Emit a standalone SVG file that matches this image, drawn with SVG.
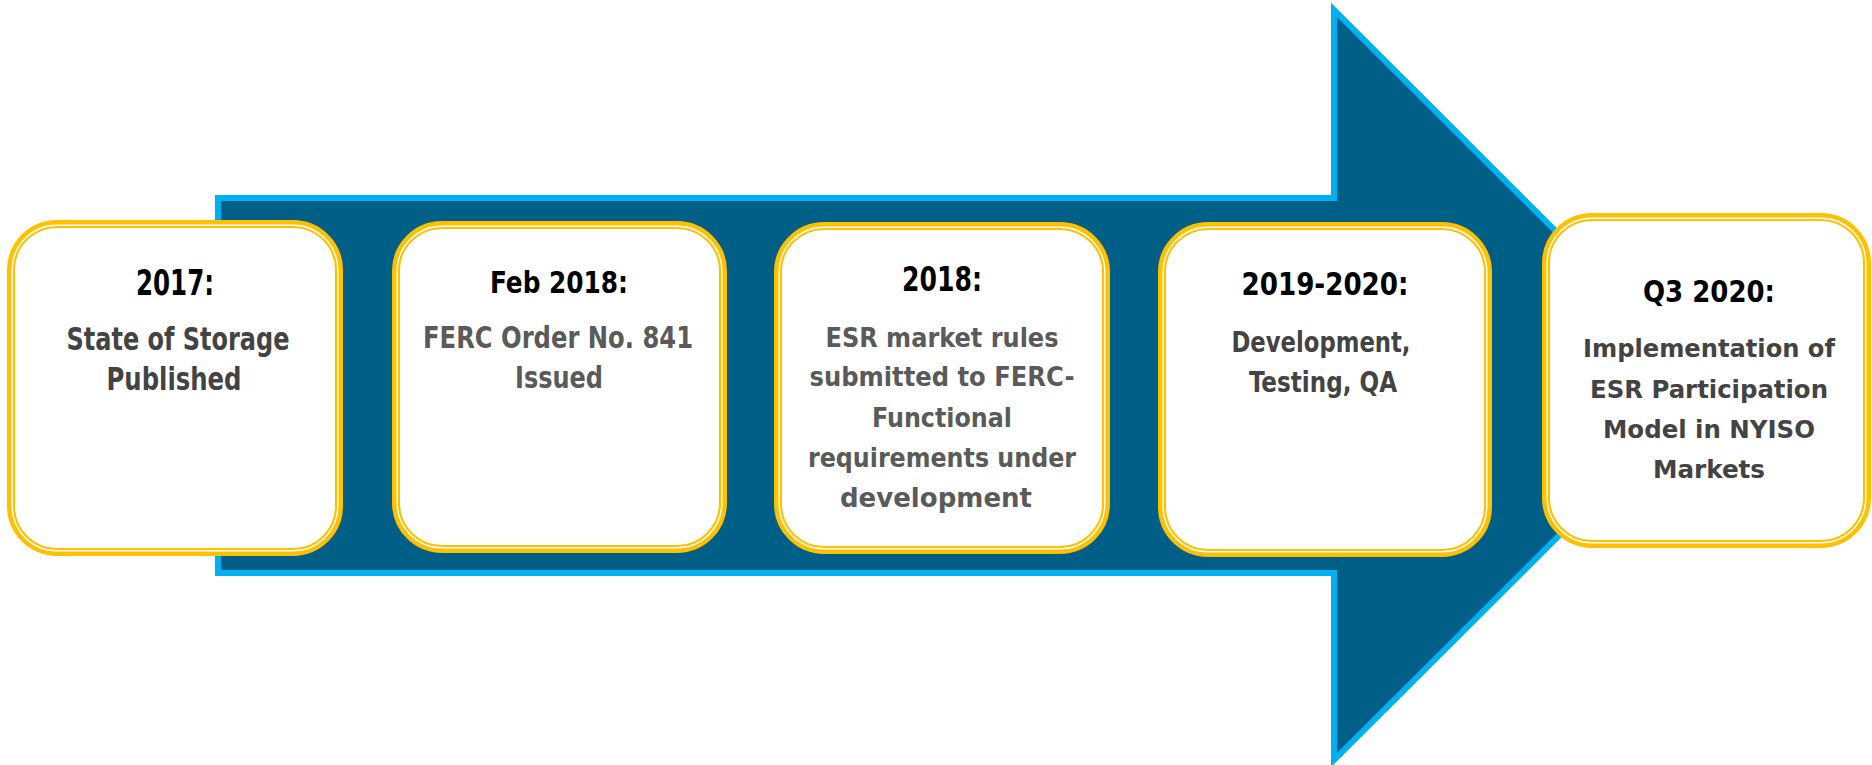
<svg xmlns="http://www.w3.org/2000/svg" width="1872" height="765" viewBox="0 0 1872 765">
  <style>
    .frame { fill: #ffffff; stroke: #FFC000; stroke-width: 8; }
    .inner { fill: none; stroke: #FFFFFF; stroke-width: 1.4; }
    text { font-family: "Liberation Sans Narrow", "DejaVu Sans Condensed", "Roboto Condensed", Roboto, "Liberation Sans", sans-serif; font-weight: 700; text-anchor: middle; }
    .title { fill: #000000; font-weight: 600; }
    .dark { fill: #434343; }
    .grey { fill: #5A5A5A; }
  </style>

  <!-- timeline arrow -->
  <g id="connectors">
    <polygon id="timeline-arrow" points="218,198 1334,198 1334,10 1710,385 1334,760 1334,573 218,573" fill="#005F87" stroke="#00B0F0" stroke-width="6" stroke-linejoin="miter"/>
  </g>

  <!-- milestone 1 -->
  <g id="node-2017">
    <rect class="frame" x="11" y="224" width="328" height="328" rx="46"/>
    <rect class="inner" x="12.2" y="225.2" width="325.6" height="325.6" rx="44.8"/>
    <text class="title" x="175" y="295" font-size="35" textLength="78" lengthAdjust="spacingAndGlyphs">2017:</text>
    <text class="dark" x="178" y="350" font-size="32" textLength="223" lengthAdjust="spacingAndGlyphs">State of Storage</text>
    <text class="dark" x="174" y="390" font-size="32" textLength="135" lengthAdjust="spacingAndGlyphs">Published</text>
  </g>

  <!-- milestone 2 -->
  <g id="node-feb-2018">
    <rect class="frame" x="396" y="225" width="327" height="324" rx="46"/>
    <rect class="inner" x="397.2" y="226.2" width="324.6" height="321.6" rx="44.8"/>
    <text class="title" x="559" y="293" font-size="30" textLength="138" lengthAdjust="spacingAndGlyphs">Feb 2018:</text>
    <text class="grey" x="558" y="348" font-size="30" textLength="270" lengthAdjust="spacingAndGlyphs">FERC Order No. 841</text>
    <text class="grey" x="559" y="388" font-size="30" textLength="88" lengthAdjust="spacingAndGlyphs">Issued</text>
  </g>

  <!-- milestone 3 -->
  <g id="node-2018">
    <rect class="frame" x="778" y="226" width="328" height="324" rx="46"/>
    <rect class="inner" x="779.2" y="227.2" width="325.6" height="321.6" rx="44.8"/>
    <text class="title" x="942" y="291" font-size="33" textLength="80" lengthAdjust="spacingAndGlyphs">2018:</text>
    <text class="grey" x="942" y="347" font-size="27" textLength="233" lengthAdjust="spacingAndGlyphs">ESR market rules</text>
    <text class="grey" x="942" y="386" font-size="27" textLength="265" lengthAdjust="spacingAndGlyphs">submitted to FERC-</text>
    <text class="grey" x="942" y="427" font-size="27" textLength="140" lengthAdjust="spacingAndGlyphs">Functional</text>
    <text class="grey" x="942" y="467" font-size="27" textLength="268" lengthAdjust="spacingAndGlyphs">requirements under</text>
    <text class="grey" x="936" y="507" font-size="27" textLength="192" lengthAdjust="spacingAndGlyphs">development</text>
  </g>

  <!-- milestone 4 -->
  <g id="node-2019-2020">
    <rect class="frame" x="1162" y="226" width="326" height="327" rx="46"/>
    <rect class="inner" x="1163.2" y="227.2" width="323.6" height="324.6" rx="44.8"/>
    <text class="title" x="1325" y="295" font-size="32" textLength="167" lengthAdjust="spacingAndGlyphs">2019-2020:</text>
    <text class="dark" x="1321" y="352" font-size="29" textLength="179" lengthAdjust="spacingAndGlyphs">Development,</text>
    <text class="dark" x="1323" y="392" font-size="29" textLength="148" lengthAdjust="spacingAndGlyphs">Testing, QA</text>
  </g>

  <!-- milestone 5 -->
  <g id="node-q3-2020">
    <rect class="frame" x="1546" y="217" width="321" height="327" rx="46"/>
    <rect class="inner" x="1547.2" y="218.2" width="318.6" height="324.6" rx="44.8"/>
    <text class="title" x="1709" y="302" font-size="30" textLength="132" lengthAdjust="spacingAndGlyphs">Q3 2020:</text>
    <text class="dark" x="1709" y="357" font-size="25.5" textLength="252" lengthAdjust="spacingAndGlyphs">Implementation of</text>
    <text class="dark" x="1709" y="398" font-size="25.5" textLength="238" lengthAdjust="spacingAndGlyphs">ESR Participation</text>
    <text class="dark" x="1709" y="438" font-size="25.5" textLength="212" lengthAdjust="spacingAndGlyphs">Model in NYISO</text>
    <text class="dark" x="1709" y="478" font-size="25.5" textLength="112" lengthAdjust="spacingAndGlyphs">Markets</text>
  </g>
</svg>
